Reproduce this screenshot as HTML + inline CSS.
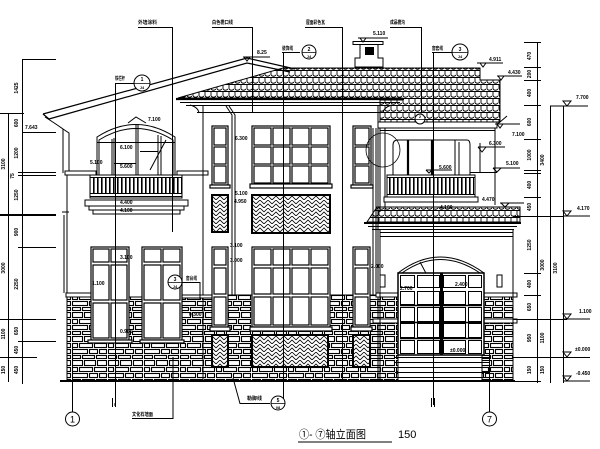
<!DOCTYPE html>
<html><head><meta charset="utf-8">
<style>
html,body{margin:0;padding:0;background:#fff;width:600px;height:449px;overflow:hidden}
svg{display:block}
.t{font-family:"Liberation Sans","Noto Sans CJK SC",sans-serif;font-size:5px;font-weight:bold;fill:#000}
.z{font-family:"Liberation Sans","Noto Sans CJK SC",sans-serif;font-size:5px;font-weight:bold;fill:#000}
.ti{font-family:"Liberation Sans","Noto Sans CJK SC",sans-serif;font-size:11px;fill:#000}
</style></head><body>
<svg width="600" height="449" viewBox="0 0 600 449" xmlns="http://www.w3.org/2000/svg">
<defs>
<pattern id="tile" width="6" height="7" patternUnits="userSpaceOnUse">
<path d="M0 0.5H6M1 0.5V5M1 5Q3.5 7.5 6 5" fill="none" stroke="#000" stroke-width="0.9"/>
</pattern>
<pattern id="stone" width="36" height="24" patternUnits="userSpaceOnUse">
<rect width="36" height="24" fill="#fff"/>
<g fill="none" stroke="#000" stroke-width="1.1">
<rect x="0.5" y="0.5" width="10" height="5"/>
<rect x="12.5" y="0.5" width="11" height="5"/>
<rect x="25.5" y="0.5" width="9" height="5"/>
<rect x="0.5" y="7.5" width="5" height="4"/>
<rect x="7.5" y="7.5" width="13" height="4"/>
<rect x="22.5" y="7.5" width="12" height="4"/>
<rect x="0.5" y="13.5" width="15" height="4"/>
<rect x="17.5" y="13.5" width="8" height="4"/>
<rect x="27.5" y="13.5" width="7" height="4"/>
<rect x="0.5" y="19.5" width="8" height="3"/>
<rect x="10.5" y="19.5" width="12" height="3"/>
<rect x="24.5" y="19.5" width="10" height="3"/>
</g>
</pattern>
<pattern id="herr" width="8" height="8" patternUnits="userSpaceOnUse">
<rect width="8" height="8" fill="#fff"/>
<path d="M0 4L4 0L8 4M0 8L4 4L8 8" fill="none" stroke="#000" stroke-width="0.8"/>
</pattern>
<pattern id="rail" width="4" height="40" patternUnits="userSpaceOnUse">
<rect width="4" height="40" fill="#fff"/>
<rect x="1" y="0" width="1.6" height="40" fill="#000"/>
</pattern>
</defs>

<rect width="600" height="449" fill="#fff"/>

<!-- ===== LEFT DIMENSIONS ===== -->
<g fill="none" stroke="#000" stroke-width="1">
<path d="M8.5 113V382M22.5 59V384"/>
<path d="M22 59.5H56M0 113.5H24M22 132.5H56M18 172.5H56M18 175.5H56M18 247.5H56M0 319.5H56M18 341.5H56M0 357.5H37"/>
</g>
<path d="M0 215H56" stroke="#000" stroke-width="2"/>
<g class="t" text-anchor="middle">
<text transform="translate(18,88) rotate(-90)">1425</text>
<text transform="translate(18,123) rotate(-90)">600</text>
<text transform="translate(18,153) rotate(-90)">1200</text>
<text transform="translate(14,176) rotate(-90)">75</text>
<text transform="translate(18,195) rotate(-90)">1250</text>
<text transform="translate(18,232) rotate(-90)">900</text>
<text transform="translate(18,284) rotate(-90)">2250</text>
<text transform="translate(18,331) rotate(-90)">650</text>
<text transform="translate(18,350) rotate(-90)">450</text>
<text transform="translate(18,370) rotate(-90)">450</text>
<text transform="translate(5,164) rotate(-90)">3100</text>
<text transform="translate(5,268) rotate(-90)">3000</text>
<text transform="translate(5,334) rotate(-90)">1100</text>
<text transform="translate(5,370) rotate(-90)">150</text>
</g>

<!-- ===== LEFT WING ===== -->
<g fill="none" stroke="#000" stroke-width="1">
<path d="M43 114L247 58L295 69M49 119L247 63L290 72M43 114L49 119" stroke-width="1.2"/>
<path d="M45 117Q56 124 63 129L69 133V173M63 129V173"/>
<path d="M67 175V293M64 215V293M62 212H69"/>
</g>
<rect x="65" y="171" width="31" height="4" fill="#fff" stroke="#000"/>
<rect x="177" y="171" width="31" height="4" fill="#fff" stroke="#000"/>

<!-- conservatory -->
<g fill="none" stroke="#000" stroke-width="1">
<path d="M97 175V137Q136 112 175 137V175"/>
<path d="M99 175V140Q136 117 173 140V175"/>
<path d="M97 142.5H175"/>
<path d="M112 139V175M114 138V175M136 124V175M138 124V175M158 135V175M161 136V175"/>
<path d="M114 163.5H136M140 151.5H158"/>
<path d="M150 170L166 140"/>
</g>
<path d="M128 123L136 117L146 123" fill="none" stroke="#000"/>
<!-- left railing -->
<rect x="90" y="175" width="92" height="23" fill="#fff" stroke="#000"/>
<rect x="90.5" y="178" width="91" height="15" fill="url(#rail)"/>
<path d="M90 177.5H182M90 193.5H182M90 196.5H182" stroke="#000" fill="none"/>
<rect x="85" y="200" width="103" height="6" fill="#fff" stroke="#000"/>
<rect x="89" y="206" width="95" height="4" fill="#fff" stroke="#000"/>
<rect x="93" y="210" width="87" height="4" fill="#fff" stroke="#000"/>

<!-- ===== CENTRAL ROOF ===== -->
<path d="M178 98L283 68L480 68L480 80L500 80L500 122L380 122L380 100L402 100L402 98Z" fill="url(#tile)" stroke="#000"/>
<path d="M176 99H404" stroke="#000" stroke-width="2.2"/>
<g fill="none" stroke="#000" stroke-width="1">
<path d="M180 102.5H400M186 105.5H394M197 112.5H383"/>
<path d="M190 105Q198 107 199 113M392 105Q384 107 383 113"/>
<path d="M493 128L507 116"/>
</g>
<!-- chimney -->
<path d="M360 44V58H355V67H383V58H378V44Z" fill="#fff" stroke="#000"/>
<rect x="353" y="41.5" width="30" height="3" fill="#fff" stroke="#000"/>
<rect x="365" y="47" width="9" height="8" fill="#000"/>

<!-- ===== CENTRAL WALLS ===== -->
<g fill="none" stroke="#000" stroke-width="1">
<path d="M203 106V381M378 106V381"/>
<path d="M226 106L232 115V381M229 106L235 115V381"/>
<path d="M373 128V381M376 128V381"/>
</g>

<!-- stone areas -->
<rect x="67" y="297" width="136" height="84" fill="url(#stone)" stroke="#000"/>
<rect x="203" y="295" width="175" height="86" fill="url(#stone)" stroke="#000"/>
<rect x="378" y="297" width="20" height="84" fill="url(#stone)" stroke="#000"/>
<rect x="482" y="297" width="31" height="84" fill="url(#stone)" stroke="#000"/>
<rect x="66" y="293" width="27" height="4" fill="#fff" stroke="#000"/>
<rect x="182" y="295" width="31" height="3" fill="#fff" stroke="#000"/>
<rect x="376" y="293" width="24" height="4" fill="#fff" stroke="#000"/>
<rect x="479" y="293" width="38" height="4" fill="#fff" stroke="#000"/>
<rect x="373" y="319" width="27" height="4" fill="#fff" stroke="#000"/>
<rect x="479" y="319" width="38" height="4" fill="#fff" stroke="#000"/>

<!-- central upper windows -->
<g fill="#fff" stroke="#000" stroke-width="1.2">
<rect x="212" y="126" width="16" height="59"/>
<rect x="214" y="128" width="12" height="17"/><rect x="214" y="147" width="12" height="17"/><rect x="214" y="166" width="12" height="17"/>
<rect x="353" y="126" width="18" height="59"/>
<rect x="355" y="128" width="14" height="17"/><rect x="355" y="147" width="14" height="17"/><rect x="355" y="166" width="14" height="17"/>
<rect x="252" y="126" width="78" height="59"/>
<rect x="254" y="128" width="17" height="17"/><rect x="273" y="128" width="17" height="17"/><rect x="292" y="128" width="17" height="17"/><rect x="311" y="128" width="17" height="17"/>
<rect x="254" y="147" width="17" height="17"/><rect x="273" y="147" width="17" height="17"/><rect x="292" y="147" width="17" height="17"/><rect x="311" y="147" width="17" height="17"/>
<rect x="254" y="166" width="17" height="17"/><rect x="273" y="166" width="17" height="17"/><rect x="292" y="166" width="17" height="17"/><rect x="311" y="166" width="17" height="17"/>
<rect x="210" y="185" width="20" height="3"/>
<rect x="250" y="184" width="82" height="4"/>
<rect x="351" y="185" width="22" height="3"/>
</g>
<rect x="212" y="195" width="16" height="37" fill="url(#herr)" stroke="#000" stroke-width="2"/>
<rect x="252" y="195" width="78" height="38" fill="url(#herr)" stroke="#000" stroke-width="2"/>

<!-- central ground windows -->
<g fill="#fff" stroke="#000" stroke-width="1.2">
<rect x="212" y="247" width="16" height="80"/>
<rect x="214" y="249" width="12" height="16"/><rect x="214" y="268" width="12" height="26"/><rect x="214" y="297" width="12" height="28"/>
<rect x="353" y="247" width="17" height="80"/>
<rect x="355" y="249" width="13" height="16"/><rect x="355" y="268" width="13" height="26"/><rect x="355" y="297" width="13" height="28"/>
<rect x="252" y="247" width="78" height="80"/>
<rect x="254" y="249" width="17" height="16"/><rect x="273" y="249" width="17" height="16"/><rect x="292" y="249" width="17" height="16"/><rect x="311" y="249" width="17" height="16"/>
<rect x="254" y="268" width="17" height="26"/><rect x="273" y="268" width="17" height="26"/><rect x="292" y="268" width="17" height="26"/><rect x="311" y="268" width="17" height="26"/>
<rect x="254" y="297" width="17" height="28"/><rect x="273" y="297" width="17" height="28"/><rect x="292" y="297" width="17" height="28"/><rect x="311" y="297" width="17" height="28"/>
<rect x="210" y="327" width="20" height="4"/>
<rect x="250" y="327" width="82" height="4"/>
<rect x="351" y="327" width="21" height="4"/>
</g>
<rect x="212" y="335" width="16" height="32" fill="url(#herr)" stroke="#000" stroke-width="2"/>
<rect x="252" y="335" width="76" height="32" fill="url(#herr)" stroke="#000" stroke-width="2"/>
<rect x="353" y="335" width="17" height="32" fill="url(#herr)" stroke="#000" stroke-width="2"/>

<!-- left lower windows -->
<g fill="#fff" stroke="#000" stroke-width="1.2">
<rect x="91" y="247" width="38" height="93"/>
<rect x="93" y="249" width="16" height="13"/><rect x="111" y="249" width="16" height="13"/>
<rect x="93" y="265" width="16" height="35"/><rect x="111" y="265" width="16" height="35"/>
<rect x="93" y="303" width="16" height="35"/><rect x="111" y="303" width="16" height="35"/>
<rect x="142" y="247" width="40" height="93"/>
<rect x="144" y="249" width="17" height="13"/><rect x="163" y="249" width="17" height="13"/>
<rect x="144" y="265" width="17" height="35"/><rect x="163" y="265" width="17" height="35"/>
<rect x="144" y="303" width="17" height="35"/><rect x="163" y="303" width="17" height="35"/>
<rect x="88" y="340" width="44" height="3"/>
<rect x="140" y="340" width="44" height="3"/>
</g>

<!-- ===== RIGHT WING UPPER ===== -->
<rect x="378" y="122" width="119" height="6" fill="#fff" stroke="#000"/>
<g fill="none" stroke="#000" stroke-width="1">
<path d="M380 130.5H495M380 128V212M385 128V212M495 128V205M480 143V172M470 172.5H497"/>
<circle cx="383" cy="150" r="17" stroke-width="0.8"/>
<path d="M393 175V145Q393 140 398 140H467Q470 140 470 145V175"/>
<path d="M432 140V175M455 140V175M459 142V175"/>
</g>
<path d="M408 140V175M432 140V175" stroke="#000" stroke-width="2.2"/>
<rect x="387" y="175" width="88" height="22" fill="#fff" stroke="#000"/>
<rect x="388" y="178" width="86" height="16" fill="url(#rail)"/>
<path d="M387 177.5H475M387 194.5H475" stroke="#000"/>
<rect x="384" y="197" width="94" height="5" fill="#fff" stroke="#000"/>

<!-- garage canopy -->
<path d="M367 222L377 207H520V222Z" fill="url(#tile)" stroke="#000"/>
<path d="M364 223H521" stroke="#000" stroke-width="2"/>
<path d="M368 226.5H517M372 229.5H514" stroke="#000" fill="none"/>

<!-- garage -->
<g fill="none" stroke="#000" stroke-width="1">
<path d="M380 230V381M513 230V381M380 232.5H513M380 236.5H513"/>
<path d="M398 273Q440 241 484 273M402 273Q440 246 480 273"/>
<path d="M420 262L436 292M398 273.5H484"/>
</g>
<rect x="398" y="273" width="86" height="82" fill="#fff" stroke="#000" stroke-width="1.5"/>
<g fill="none" stroke="#000" stroke-width="1">
<rect x="400.5" y="275.5" width="14" height="12"/><rect x="417.5" y="275.5" width="22" height="12"/><rect x="443.5" y="275.5" width="22" height="12"/><rect x="468.5" y="275.5" width="13" height="12"/>
<rect x="400.5" y="291.5" width="14" height="13"/><rect x="417.5" y="291.5" width="22" height="13"/><rect x="443.5" y="291.5" width="22" height="13"/><rect x="468.5" y="291.5" width="13" height="13"/>
<rect x="400.5" y="307.5" width="14" height="14"/><rect x="417.5" y="307.5" width="22" height="14"/><rect x="443.5" y="307.5" width="22" height="14"/><rect x="468.5" y="307.5" width="13" height="14"/>
<rect x="400.5" y="323.5" width="14" height="14"/><rect x="417.5" y="323.5" width="22" height="14"/><rect x="443.5" y="323.5" width="22" height="14"/><rect x="468.5" y="323.5" width="13" height="14"/>
<rect x="400.5" y="340.5" width="14" height="13"/><rect x="417.5" y="340.5" width="22" height="13"/><rect x="443.5" y="340.5" width="22" height="13"/><rect x="468.5" y="340.5" width="13" height="13"/>
</g>
<path d="M441.5 273V355" stroke="#000" stroke-width="3"/>
<path d="M400 305.5H482M400 322.5H482M400 338.5H482" stroke="#000" stroke-width="1.6"/>
<rect x="380" y="275" width="5" height="12" fill="#fff" stroke="#000"/>
<rect x="497" y="275" width="5" height="12" fill="#fff" stroke="#000"/>
<path d="M395 357.5H490M395 362.5H490M395 367.5H490M395 372.5H490M395 377.5H490" stroke="#000" fill="none"/>

<!-- ground line -->
<path d="M60 381H515" stroke="#000" stroke-width="2"/>

<!-- ===== RIGHT DIMENSIONS ===== -->
<g fill="none" stroke="#000" stroke-width="1">
<path d="M537.5 42V383M550.5 106V383M563.5 106V383"/>
<path d="M524 42.5H541M524 67.5H541M524 80.5H541M524 105.5H541M524 139.5H541M524 170.5H541M524 173.5H541M524 197.5H541M513 216.5H563M524 273.5H541M524 295.5H541M513 319.5H567M513 357.5H590M513 381.5H541"/>
<path d="M550 106H588M563 216H590M563 319H590M563 381H590"/>
<path d="M563 101H571L567 106ZM563 211H571L567 216ZM563 314H571L567 319ZM563 352H571L567 357ZM563 376H571L567 381Z"/>
<path d="M477 63H503M480 63L483 67L486 63M497 76H522M498 76L501 80L504 76M358 38H388M360 38L363 42L366 38M243 57H270M244 57L247 61L250 57"/>
<path d="M495 124H520M497 124L500 128L503 124M478 147H505M478 147L482 152L486 147M493 168H520M493 168L497 172L501 168M426 170H452M426 170L429 173L432 170M500 203H524M501 203L505 207L509 203"/>
</g>
<g class="t">
<text x="576" y="99">7.700</text>
<text x="577" y="210">4.170</text>
<text x="579" y="313">1.100</text>
<text x="575" y="351">±0.000</text>
<text x="576" y="375">-0.450</text>
<text x="489" y="61">4.911</text>
<text x="508" y="74">4.430</text>
<text x="373" y="35">5.110</text>
<text x="257" y="54">8.25</text>
<text x="512" y="136">7.100</text>
<text x="489" y="145">6.300</text>
<text x="506" y="165">5.100</text>
<text x="439" y="169">5.600</text>
<text x="482" y="201">4.470</text>
<text x="440" y="209">4.100</text>
<text x="25" y="129">7.643</text>
<text x="148" y="121">7.100</text>
<text x="90" y="164">5.100</text>
<text x="120" y="149">6.100</text>
<text x="120" y="168">5.600</text>
<text x="120" y="204">4.400</text>
<text x="120" y="212">4.100</text>
<text x="92" y="285">1.100</text>
<text x="120" y="259">3.100</text>
<text x="120" y="333">0.900</text>
<text x="189" y="316">0.300</text>
<text x="230" y="247">3.100</text>
<text x="230" y="262">3.000</text>
<text x="235" y="140">6.300</text>
<text x="235" y="195">5.100</text>
<text x="234" y="203">4.950</text>
<text x="371" y="268">2.000</text>
<text x="455" y="286">2.400</text>
<text x="400" y="290">2.700</text>
<text x="450" y="352">±0.000</text>
</g>
<g class="t" text-anchor="middle">
<text transform="translate(531,56) rotate(-90)">470</text>
<text transform="translate(531,74) rotate(-90)">200</text>
<text transform="translate(531,93) rotate(-90)">400</text>
<text transform="translate(531,122) rotate(-90)">600</text>
<text transform="translate(531,155) rotate(-90)">1000</text>
<text transform="translate(531,185) rotate(-90)">400</text>
<text transform="translate(531,207) rotate(-90)">450</text>
<text transform="translate(531,245) rotate(-90)">1250</text>
<text transform="translate(531,284) rotate(-90)">400</text>
<text transform="translate(531,307) rotate(-90)">650</text>
<text transform="translate(531,338) rotate(-90)">950</text>
<text transform="translate(531,370) rotate(-90)">150</text>
<text transform="translate(544,160) rotate(-90)">3400</text>
<text transform="translate(544,265) rotate(-90)">3000</text>
<text transform="translate(544,338) rotate(-90)">1100</text>
<text transform="translate(544,370) rotate(-90)">150</text>
<text transform="translate(557,268) rotate(-90)">3100</text>
</g>

<!-- ===== LEADERS ===== -->
<g fill="none" stroke="#000" stroke-width="1">
<path d="M138 27.5H172.5V232M173 357V418.5H132"/>
<path d="M212 27.5H252.5V112"/>
<path d="M282 52.5H300M283.5 52V400"/>
<path d="M305 27.5H342.5V380"/>
<path d="M390 27.5H421.5V112"/>
<path d="M432 52.5H452M433.5 52V405"/>
<path d="M115 83.5H134M115.5 83V405"/>
<path d="M72.5 348V412M489.5 350V412"/>
<path d="M233 378L240 403.5H270"/>
<path d="M182 282.5H200V300M115 403V406"/>
<path d="M112.5 398V407M115.5 398V407M431.5 398V407M434.5 398V407"/>
</g>
<g fill="#fff" stroke="#000" stroke-width="1">
<circle cx="142" cy="83" r="8"/>
<circle cx="309" cy="52" r="7"/>
<circle cx="460" cy="52" r="8"/>
<circle cx="420" cy="119" r="5"/>
<circle cx="175" cy="282" r="7"/>
<circle cx="278" cy="403" r="7"/>
<circle cx="72.5" cy="419" r="7"/>
<circle cx="489.5" cy="419" r="7"/>
</g>
<path d="M134 83.5H150M302 52.5H316M452 52.5H468M415 119.5H425M168 282.5H182M271 403.5H285" stroke="#000" stroke-width="0.8"/>
<g class="t" text-anchor="middle">
<text x="142" y="81">1</text><text x="142" y="89" font-size="4">J4</text>
<text x="309" y="51">2</text><text x="309" y="58" font-size="4">J4</text>
<text x="460" y="51">3</text><text x="460" y="58" font-size="4">J4</text>
<text x="420" y="118" font-size="4">2</text>
<text x="175" y="281">3</text><text x="175" y="288" font-size="4">J4</text>
<text x="278" y="402">5</text><text x="278" y="409" font-size="4">08</text>
</g>
<g class="ti" text-anchor="middle" font-size="9">
<text x="72.5" y="422.5" font-size="9">1</text>
<text x="489.5" y="422.5" font-size="9">7</text>
</g>
<g class="z">
<text x="138" y="24" textLength="19" lengthAdjust="spacingAndGlyphs">外墙涂料</text>
<text x="212" y="24" textLength="21" lengthAdjust="spacingAndGlyphs">白色檐口线</text>
<text x="306" y="24" textLength="19" lengthAdjust="spacingAndGlyphs">屋面彩色瓦</text>
<text x="390" y="24" textLength="15" lengthAdjust="spacingAndGlyphs">成品檐沟</text>
<text x="432" y="50" textLength="11" lengthAdjust="spacingAndGlyphs">窗套线</text>
<text x="115" y="80" textLength="10" lengthAdjust="spacingAndGlyphs">铁栏杆</text>
<text x="282" y="50" textLength="11" lengthAdjust="spacingAndGlyphs">装饰线</text>
<text x="132" y="416" textLength="21" lengthAdjust="spacingAndGlyphs">文化石墙面</text>
<text x="247" y="400" textLength="15" lengthAdjust="spacingAndGlyphs">勒脚线</text>
<text x="186" y="280" textLength="11" lengthAdjust="spacingAndGlyphs">窗台线</text>
</g>

<!-- ===== TITLE ===== -->
<text class="ti" x="299" y="438" textLength="67" lengthAdjust="spacingAndGlyphs">①- ⑦轴立面图</text>
<path d="M298 442H392" stroke="#000" stroke-width="1"/>
<text class="ti" x="398" y="438" font-size="8">150</text>
</svg>
</body></html>
